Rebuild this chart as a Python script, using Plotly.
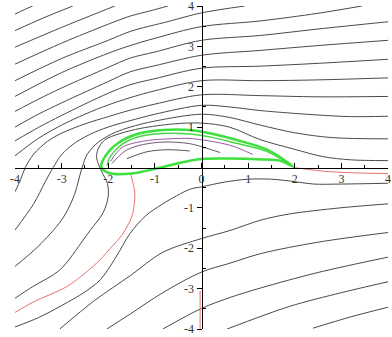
import plotly.graph_objects as go

# ---- data (data units) ----
tick_vals = [-4, -3, -2, -1, 0, 1, 2, 3, 4]
x_tick_text = ["-4", "-3", "-2", "-1", "0", "1", "2", "3", "4"]
y_tick_vals = [-4, -3, -2, -1, 1, 2, 3, 4]
y_tick_text = ["-4", "-3", "-2", "-1", "1", "2", "3", "4"]
minor_vals = [-3.5, -2.5, -1.5, -0.5, 0.5, 1.5, 2.5, 3.5]

# streamlines above the stagnation line (black)
c1_x = [-4.0, -3.8, -3.62]
c1_y = [3.80, 3.91, 4.0]
c2_x = [-4.0, -3.4, -2.76]
c2_y = [3.39, 3.70, 4.0]
c3_x = [-4.0, -3.0, -2.4, -1.86]
c3_y = [2.98, 3.47, 3.75, 4.0]
c4_x = [-4.0, -3.0, -2.0, -1.53, -1.1, -0.72]
c4_y = [2.56, 3.08, 3.55, 3.75, 3.88, 4.0]
c5_x = [-4.0, -3.0, -2.0, -1.53, -0.7, 0.0, 0.93]
c5_y = [2.15, 2.70, 3.15, 3.37, 3.62, 3.83, 4.0]
c6_x = [-4.0, -3.0, -2.0, -1.53, -1.0, 0.0, 1.26, 2.5, 3.44]
c6_y = [1.76, 2.35, 2.83, 3.02, 3.20, 3.49, 3.63, 3.82, 4.0]
c7_x = [-4.0, -3.5, -3.0, -2.0, -1.53, -1.0, 0.0, 1.26, 2.5, 4.0]
c7_y = [1.39, 1.69, 1.97, 2.48, 2.71, 2.86, 3.15, 3.27, 3.43, 3.61]
c8_x = [-4.0, -3.5, -3.0, -2.0, -1.53, -1.0, 0.0, 1.26, 2.5, 4.0]
c8_y = [1.0, 1.32, 1.60, 2.13, 2.37, 2.52, 2.78, 2.90, 3.02, 3.15]
c9_x = [-4.0, -3.5, -3.0, -2.0, -1.53, -1.0, 0.0, 1.26, 2.5, 4.0]
c9_y = [0.66, 0.99, 1.29, 1.84, 2.05, 2.20, 2.46, 2.51, 2.58, 2.68]
c10_x = [-4.0, -3.5, -3.0, -2.5, -2.0, -1.53, -1.0, 0.0, 1.26, 2.5, 4.0]
c10_y = [0.29, 0.72, 1.05, 1.32, 1.55, 1.73, 1.90, 2.15, 2.15, 2.17, 2.22]
c11_x = [-4.0, -3.88, -3.78, -3.6, -3.3, -3.0, -2.5, -2.0, -1.53, -1.0, 0.0, 1.26, 2.5, 4.0]
c11_y = [-0.60, -0.30, 0.0, 0.33, 0.65, 0.85, 1.08, 1.26, 1.42, 1.57, 1.80, 1.78, 1.75, 1.76]
c12_x = [-4.0, -3.6, -3.35, -3.18, -3.0, -2.7, -2.3, -1.9, -1.53, -1.0, 0.0, 0.6, 1.26, 2.0, 2.5, 3.2, 4.0]
c12_y = [-1.55, -0.90, -0.35, 0.0, 0.32, 0.62, 0.87, 1.04, 1.16, 1.32, 1.54, 1.50, 1.41, 1.34, 1.30, 1.26, 1.27]
c13_x = [-4.0, -3.5, -3.0, -2.75, -2.56, -2.45, -2.2, -1.85, -1.53, -1.0, 0.0, 0.6, 1.26, 2.0, 2.8, 4.0]
c13_y = [-2.45, -1.95, -1.30, -0.75, 0.0, 0.33, 0.64, 0.87, 1.00, 1.15, 1.32, 1.24, 1.05, 0.86, 0.74, 0.71]
c14_x = [-4.0, -3.62, -3.04, -2.54, -2.39, -2.11, -2.0, -2.02, -2.12, -2.2, -2.25, -2.22, -2.08, -1.75, -1.3, -0.6, 0.0, 0.6, 1.26, 2.0, 2.6, 3.2, 4.0]
c14_y = [-3.24, -2.95, -2.54, -1.80, -1.56, -1.12, -0.71, -0.39, -0.15, 0.05, 0.25, 0.45, 0.68, 0.84, 0.97, 1.08, 1.10, 1.00, 0.69, 0.45, 0.27, 0.19, 0.17]

# streamlines below the stagnation line (black)
b1_x = [-4.0, -3.5, -3.0, -2.5, -2.17, -1.85, -1.53, -1.2, -0.83, -0.25, 0.0, 0.5, 1.0, 1.5, 2.0, 2.4, 3.0, 4.0]
b1_y = [-3.95, -3.72, -3.42, -3.08, -2.78, -2.25, -1.63, -1.20, -0.90, -0.54, -0.48, -0.36, -0.29, -0.29, -0.35, -0.41, -0.41, -0.39]
b2_x = [-3.04, -2.3, -1.53, -0.83, 0.0, 0.61, 1.28, 1.89, 2.97, 4.0]
b2_y = [-4.0, -3.30, -2.68, -2.10, -1.76, -1.56, -1.30, -1.15, -1.00, -0.90]
b3_x = [-2.03, -1.53, -0.83, 0.0, 0.61, 1.28, 2.5, 4.0]
b3_y = [-4.0, -3.63, -3.10, -2.59, -2.37, -2.13, -1.85, -1.61]
b4_x = [-0.83, 0.0, 0.61, 1.28, 2.5, 4.0]
b4_y = [-4.0, -3.49, -3.22, -2.98, -2.60, -2.22]
b5_x = [0.55, 1.89, 3.0, 4.0]
b5_y = [-4.0, -3.44, -3.10, -2.83]
b6_x = [2.39, 3.2, 4.0]
b6_y = [-3.98, -3.70, -3.46]

# stagnation streamlines (red)
red_front_x = [-1.52, -1.47, -1.43, -1.49, -1.71, -1.9, -2.18, -2.5, -2.89, -3.62, -4.0]
red_front_y = [-0.15, -0.39, -0.63, -1.20, -1.68, -1.93, -2.29, -2.62, -2.95, -3.34, -3.59]
red_back_x = [1.97, 2.3, 2.6, 3.0, 3.5, 4.0]
red_back_y = [0.0, -0.05, -0.09, -0.12, -0.14, -0.15]
red_axis_x = [-0.03, -0.03]
red_axis_y = [-3.05, -4.0]

# airfoil (green)
foil_x = [1.97, 1.41, 0.76, 0.25, -0.25, -0.83, -1.38, -1.81, -2.07, -2.15, -2.0, -1.5, -0.95, -0.10, 0.61, 1.30, 1.68, 1.97]
foil_y = [0.02, 0.44, 0.68, 0.83, 0.93, 0.93, 0.83, 0.59, 0.27, 0.02, -0.13, -0.15, -0.02, 0.20, 0.22, 0.20, 0.17, 0.02]
foil_in_x = [1.97, 1.4, 0.75, 0.25, -0.25, -0.83, -1.35, -1.72, -1.95, -2.03]
foil_in_y = [0.02, 0.40, 0.60, 0.74, 0.83, 0.84, 0.76, 0.56, 0.28, 0.05]

# streamlines inside the airfoil
i1_x = [-1.92, -1.65, -1.36, -0.83, -0.25, 0.1, 0.4]
i1_y = [0.10, 0.40, 0.54, 0.63, 0.59, 0.48, 0.37]
i2_x = [-1.6, -1.17, -0.74, -0.25]
i2_y = [0.22, 0.39, 0.44, 0.41]
i3_x = [-1.95, -1.7, -1.2, -0.5, -0.25, 0.3, 0.7, 1.1]
i3_y = [0.15, 0.50, 0.66, 0.72, 0.72, 0.63, 0.52, 0.32]

black_lines = [(c1_x, c1_y), (c2_x, c2_y), (c3_x, c3_y), (c4_x, c4_y), (c5_x, c5_y),
               (c6_x, c6_y), (c7_x, c7_y), (c8_x, c8_y), (c9_x, c9_y), (c10_x, c10_y),
               (c11_x, c11_y), (c12_x, c12_y), (c13_x, c13_y), (c14_x, c14_y),
               (b1_x, b1_y), (b2_x, b2_y), (b3_x, b3_y), (b4_x, b4_y), (b5_x, b5_y), (b6_x, b6_y)]
red_lines = [(red_front_x, red_front_y), (red_back_x, red_back_y), (red_axis_x, red_axis_y)]

fig = go.Figure()

def add(xs, ys, color, width, smooth=0.9):
    fig.add_trace(go.Scatter(x=xs, y=ys, mode="lines",
                             line=dict(color=color, width=width, shape="spline", smoothing=smooth),
                             hoverinfo="skip", showlegend=False, cliponaxis=True))

for xs, ys in black_lines:
    add(xs, ys, "#4a4a4a", 1)
add(i1_x, i1_y, "#6a5a70", 1)
add(i2_x, i2_y, "#555555", 1)
add(i3_x, i3_y, "#9a58a8", 1)
for xs, ys in red_lines:
    add(xs, ys, "#e87070", 1)
add(foil_in_x, foil_in_y, "#45d845", 1.5)
add(foil_x, foil_y, "#3ee03e", 2.5)

font = dict(family="Liberation Serif", size=12, color="#333333")
fig.update_layout(
    width=392, height=337,
    margin=dict(l=15, r=4, t=6, b=8),
    paper_bgcolor="white", plot_bgcolor="white",
    showlegend=False, hovermode=False,
    xaxis=dict(range=[-4, 4], anchor="free", position=0.5, showline=True,
               linecolor="black", linewidth=1.5, showgrid=False, zeroline=False,
               tickmode="array", tickvals=tick_vals, ticktext=x_tick_text,
               ticks="inside", ticklen=5, tickcolor="black", tickwidth=1,
               minor=dict(tickmode="array", tickvals=minor_vals, ticks="inside",
                          ticklen=3, tickcolor="black"),
               tickfont=font, automargin=False, ticklabeloverflow="allow"),
    yaxis=dict(range=[-4, 4], anchor="free", position=0.5, showline=True,
               linecolor="black", linewidth=1.5, showgrid=False, zeroline=False,
               tickmode="array", tickvals=y_tick_vals, ticktext=y_tick_text,
               ticks="outside", ticklen=5, tickcolor="black", tickwidth=1,
               minor=dict(tickmode="array", tickvals=minor_vals, ticks="inside",
                          ticklen=3, tickcolor="black"),
               tickfont=font, automargin=False, ticklabeloverflow="allow"),
)

fig.write_html("out.html", config={"displayModeBar": False, "staticPlot": True},
               post_script="document.body.style.margin='0';document.body.style.overflow='hidden';")
